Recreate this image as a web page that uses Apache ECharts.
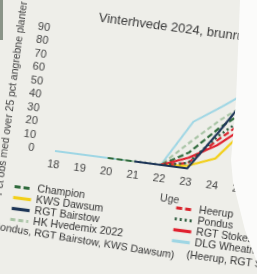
<!DOCTYPE html>
<html>
<head>
<meta charset="utf-8">
<script src="https://cdn.jsdelivr.net/npm/echarts@6/dist/echarts.min.js"></script>
<style>
  html, body { margin: 0; padding: 0; }
  body { width: 257px; height: 274px; overflow: hidden; background: #eeeee9; position: relative; }
  #main { position: absolute; left: -15px; top: -19px; width: 340px; height: 320px;
          transform-origin: 70px 170px; transform: rotate(7.5deg); }
  #edge { position: absolute; left: 0; top: 0; width: 257px; height: 274px; background: #fbfbfa;
          clip-path: polygon(240px 0, 236px 100px, 231px 160px, 233px 182px, 245px 230px, 257px 262px, 257px 0); }
  #strip { position: absolute; left: 0; top: 0; width: 3px; height: 40px; background: #8a9488; }
</style>
</head>
<body>
<div id="main"></div>
<div id="edge"></div>
<div id="strip"></div>
<script>
// uger og målinger (pct obs med over 25 pct angrebne planter)
var weeks = ['18', '19', '20', '21', '22', '23', '24', '25', '26', '27'];
var champion = [null, null, 0, 0, 0, 12, 33, 50, null, null];
var kwsDawsum = [null, null, null, 0, 0, 2, 10, 35, null, null];
var rgtBairstow = [null, null, null, 0, 0, 0, 30, 62, null, null];
var hkHvedemix = [null, null, 0, 0, 0, 20, 39, 55, null, null];
var heerup = [null, null, null, 0, 0, 4, 24, 42, null, null];
var pondus = [null, null, null, 0, 0, 4, 27, 45, null, null];
var rgtStokes = [null, null, null, 0, 0, 8, 20, 37, null, null];
var dlgWheat = [0, 0, 0, 0, 0, 35, 49, 64, null, null];

var myChart = echarts.init(document.getElementById('main'));

var font = 'Liberation Sans, Arial, sans-serif';

function line(name, data, color, type, width) {
  return {
    name: name,
    type: 'line',
    data: data,
    symbol: 'none',
    lineStyle: { color: color, type: type, width: width || 2.2 },
    itemStyle: { color: color }
  };
}

var legendBase = {
  orient: 'vertical',
  top: 205,
  padding: 0,
  itemWidth: 18,
  itemHeight: 8,
  itemGap: 0,
  itemStyle: { opacity: 0 },
  lineStyle: { width: 3.2 },
  textStyle: { fontSize: 10.5, lineHeight: 11, color: '#333' }
};

var option = {
  animation: false,
  textStyle: { fontFamily: font },
  title: {
    text: 'Vinterhvede 2024, brunrust',
    left: 96,
    top: 26,
    padding: 0,
    textStyle: { fontSize: 13, fontWeight: 'normal', color: '#3a3a3a', fontFamily: font }
  },
  grid: { left: 70, right: 30, top: 49, bottom: 150 },
  xAxis: {
    type: 'category',
    data: weeks,
    boundaryGap: false,
    name: 'Uge',
    nameLocation: 'middle',
    nameGap: 28,
    nameTextStyle: { fontSize: 10.5, color: '#444' },
    axisLine: { show: false },
    axisTick: { show: false },
    axisLabel: { margin: 8, fontSize: 11, color: '#444' }
  },
  yAxis: {
    type: 'value',
    min: 0,
    max: 90,
    interval: 10,
    name: 'Pct obs med over 25 pct angrebne planter',
    nameLocation: 'middle',
    nameGap: 33,
    nameTextStyle: { fontSize: 10.5, color: '#444', padding: [0, 28, 0, 0] },
    axisLine: { show: false },
    axisTick: { show: false },
    splitLine: { show: false },
    axisLabel: { margin: 21, fontSize: 11, color: '#444' }
  },
  legend: [
    Object.assign({}, legendBase, {
      data: ['Champion', 'KWS Dawsum', 'RGT Bairstow', 'HK Hvedemix 2022'],
      left: 33
    }),
    Object.assign({}, legendBase, {
      data: ['Heerup', 'Pondus', 'RGT Stokes', 'DLG Wheatmix 2022'],
      left: 196
    })
  ],
  graphic: [{
    type: 'text',
    left: 15,
    top: 247,
    rotation: -0.03,
    style: { text: '(Pondus, RGT Bairstow, KWS Dawsum)', font: '10.5px ' + font, fill: '#333' }
  }, {
    type: 'text',
    left: 214,
    top: 251,
    style: { text: '(Heerup, RGT Stokes)', font: '10.5px ' + font, fill: '#333' }
  }],
  series: [
    line('DLG Wheatmix 2022', dlgWheat, '#9fd6e4', 'solid', 2),
    line('HK Hvedemix 2022', hkHvedemix, '#a9c4a6', [5, 3], 2.2),
    line('Champion', champion, '#2f6a3c', [6, 3], 2.2),
    line('KWS Dawsum', kwsDawsum, '#f2cf1a', 'solid', 2.2),
    line('Heerup', heerup, '#d9262e', [6, 3], 2.2),
    line('RGT Stokes', rgtStokes, '#e0202e', 'solid', 2.2),
    line('Pondus', pondus, '#2b5a3c', [2, 3], 2.4),
    line('RGT Bairstow', rgtBairstow, '#1d3557', 'solid', 2.2)
  ]
};

myChart.setOption(option);
</script>
</body>
</html>
